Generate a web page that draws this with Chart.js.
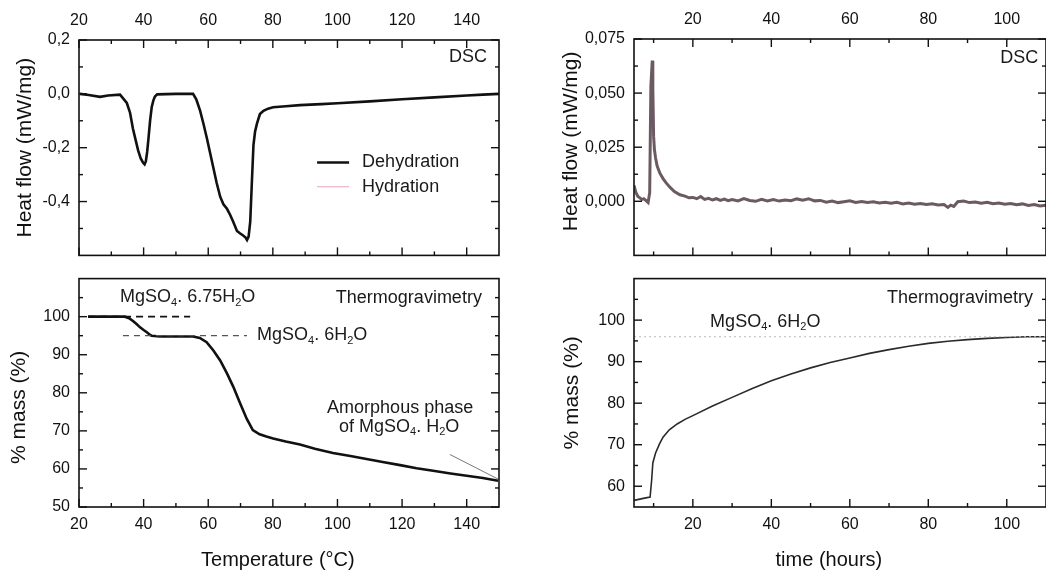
<!DOCTYPE html>
<html>
<head>
<meta charset="utf-8">
<script src="https://cdn.jsdelivr.net/npm/chart.js@4.4.0/dist/chart.umd.min.js"></script>
<style>
  html, body { margin: 0; padding: 0; background: #fff; }
  #wrap { position: relative; width: 1046px; height: 573px; overflow: hidden; }
  canvas { position: absolute; }
</style>
</head>
<body>
<div id="wrap">
  <canvas id="tl" width="520" height="274" style="left:0;top:0"></canvas>
  <canvas id="bl" width="520" height="313" style="left:0;top:260px"></canvas>
  <canvas id="tr" width="526" height="274" style="left:520px;top:0"></canvas>
  <canvas id="br" width="526" height="313" style="left:520px;top:260px"></canvas>
</div>
<script>
// Dehydration DSC (top left)
const dscTemp = [20.3, 23, 26.5, 29, 32.7, 34.8, 35.8, 36.7, 37.5, 38.3,
  39.1, 39.8, 40.3, 40.7, 41.1, 41.5, 42, 42.5, 43, 43.5,
  44.2, 50, 55.3, 56.3, 57.5, 58.5, 59.6, 60.5, 61.5, 62.6,
  63.7, 64.7, 65.8, 66.8, 67.7, 68.9, 69.8, 70.8, 71.5, 72.0,
  72.5, 73.0, 73.5, 74.0, 74.5, 75.1, 76.0, 77.1, 78.5, 80.1,
  84, 88.4, 95, 100, 110, 120, 130, 140, 145, 150];
const dscHeat = [0, -0.004, -0.011, -0.006, -0.003, -0.034, -0.07, -0.13, -0.17, -0.21,
  -0.24, -0.255, -0.262, -0.25, -0.215, -0.166, -0.1, -0.05, -0.025, -0.01,
  -0.002, 0, 0, -0.02, -0.063, -0.11, -0.166, -0.215, -0.27, -0.33,
  -0.382, -0.41, -0.427, -0.45, -0.474, -0.509, -0.518, -0.526, -0.533, -0.543,
  -0.53, -0.475, -0.33, -0.19, -0.14, -0.11, -0.075, -0.063, -0.055, -0.05,
  -0.046, -0.042, -0.038, -0.035, -0.028, -0.02, -0.013, -0.006, -0.003, 0];

// Dehydration TG (bottom left)
const tgaTemp = [22.8, 30, 34.2, 35.5, 36.8, 37.9, 38.9, 40, 41, 42,
  42.5, 45, 50, 55.3, 57.4, 59.5, 61.6, 63.7, 65.8, 67.7,
  69.8, 71.9, 73.8, 75.9, 78, 80.1, 84, 88.4, 93, 98.6,
  104, 109, 114, 119.4, 124.5, 129.6, 135, 140, 145, 149.7];
const tgaMass = [100, 100, 100, 99.6, 98.8, 98, 97.2, 96.5, 95.9, 95.2,
  95, 94.8, 94.8, 94.8, 94.4, 93.3, 91.1, 88.5, 85.1, 81.7,
  77.4, 73.2, 70.2, 69.1, 68.5, 68, 67.2, 66.4, 65.3, 64.2,
  63.4, 62.6, 61.8, 61, 60.2, 59.5, 58.8, 58.2, 57.6, 56.9];
const level675 = [22.8, 54.4];   // x span of the 100 % dashed guide
const level6 = [33.6, 72];       // x span of the 95 % dashed guide
const pointerX = [134.8, 150];
const pointerY = [63.8, 57.2];

// Hydration DSC (top right)
const hfTime = [5, 5.5, 6, 6.5, 7, 7.5, 8, 8.6, 9.0, 9.3,
  9.5, 9.65, 9.8, 10.0, 10.2, 10.5, 10.9, 11.6, 12.4, 13.2,
  14.2, 15.3, 16.7, 18, 19, 20, 21, 22, 23, 24,
  25, 26, 27, 28, 29, 30, 31.5, 33, 34.5, 36,
  37.5, 39, 40.5, 42, 43.5, 45, 46.5, 48, 49.5, 51,
  52.5, 54, 55.5, 57, 58.5, 60, 61.5, 63, 64.5, 66,
  67.5, 69, 70.5, 72, 73.5, 75, 76.5, 78, 79.5, 81,
  82.5, 84, 85, 85.7, 86.5, 87.5, 89, 90.5, 92, 93.5,
  95, 96.5, 98, 99.5, 101, 102.5, 104, 105.5, 107, 108.5,
  110];
const hfHeat = [0.0073, 0.004, 0.0022, 0.0016, 0.0008, 0.0012, 0.0004, -0.0006, 0.004, 0.053,
  0.06, 0.065, 0.052, 0.03, 0.024, 0.02, 0.0163, 0.013, 0.0105, 0.0085,
  0.0064, 0.0045, 0.003, 0.0024, 0.0016, 0.0018, 0.0012, 0.0022, 0.0009, 0.0014,
  0.0006, 0.0012, 0.0004, 0.001, 0.0003, 0.0008, 0.0002, 0.0013, 0.0004, 0.0,
  0.0009, 0.0002, 0.0008, 0.0001, 0.0006, 0.0003, 0.0011, 0.0005, 0.0012, 0.0002,
  0.0004, -0.0004, 0.0001, -0.0006, -0.0002, 0.0002, -0.0005, -0.0001, -0.0006, -0.0002,
  -0.0008, -0.0004, -0.0009, -0.0005, -0.0012, -0.0008, -0.0014, -0.001, -0.0015, -0.0011,
  -0.0017, -0.0015, -0.0028, -0.0018, -0.0024, -0.0002, 0.0001, -0.0006, -0.0003, -0.0009,
  -0.0005, -0.0011, -0.0008, -0.0014, -0.001, -0.0016, -0.0012, -0.0019, -0.0015, -0.0022,
  -0.0018];

// Hydration TG (bottom right)
const hydTime = [5, 6.5, 8, 9.1, 9.5, 9.8, 10.5, 11.5, 12.4, 14,
  16, 18, 20, 25, 30, 35, 40, 45, 50, 55,
  60, 65, 70, 75, 80, 85, 90, 95, 100, 105, 110];
const hydMass = [56.6, 56.9, 57.2, 57.4, 61.5, 65.6, 68, 70.2, 71.8, 73.6,
  75, 76.1, 77, 79.3, 81.4, 83.5, 85.4, 87, 88.5, 89.8,
  90.9, 92, 92.9, 93.7, 94.4, 94.9, 95.3, 95.6, 95.8, 96, 96];
const hexaLevel = 96;

// tick values
const tempTicks = [20, 40, 60, 80, 100, 120, 140];
const tempMinor = [30, 50, 70, 90, 110, 130];
const timeTicks = [20, 40, 60, 80, 100];
const timeMinor = [10, 30, 50, 70, 90];
const dscTicks = [0.2, 0, -0.2, -0.4];
const dscMinor = [0.1, -0.1, -0.3, -0.5];
const tgaTicks = [50, 60, 70, 80, 90, 100];
const tgaMinor = [55, 65, 75, 85, 95, 105];
const hfTicks = [0.075, 0.05, 0.025, 0];
const hfMinor = [0.0625, 0.0375, 0.0125, -0.0125];
const hydTicks = [60, 70, 80, 90, 100];
const hydMinor = [65, 75, 85, 95, 105];

const FONT = '"Liberation Sans", Arial, sans-serif';
Chart.defaults.font.family = FONT;
Chart.defaults.color = '#111';

const pts = (xs, ys) => xs.map((x, i) => ({ x: x, y: ys[i] }));
const comma = (d) => (v) => Number(v).toFixed(d).replace('.', ',');
const NB = '\u00a0';

// text with "_n" subscripts
const drawRich = (ctx, str, x, y, align, size) => {
  const parts = str.split(/(_\d)/).filter(p => p).map(p =>
    p[0] === '_' ? { t: p[1], sub: true } : { t: p, sub: false });
  const big = size + 'px ' + FONT;
  const small = Math.round(size * 0.62) + 'px ' + FONT;
  let w = 0;
  parts.forEach(p => { ctx.font = p.sub ? small : big; p.w = ctx.measureText(p.t).width; w += p.w; });
  let cx = align === 'right' ? x - w : align === 'center' ? x - w / 2 : x;
  ctx.textAlign = 'left';
  ctx.textBaseline = 'middle';
  parts.forEach(p => {
    ctx.font = p.sub ? small : big;
    ctx.fillText(p.t, cx, p.sub ? y + size * 0.3 : y);
    cx += p.w;
  });
};

// frame, inward ticks, notes and legend
const panelDecor = {
  id: 'panelDecor',
  afterDatasetsDraw(chart, args, o) {
    const { ctx, chartArea: a } = chart;
    const xs = chart.scales.x, ys = chart.scales.y;
    ctx.save();
    ctx.strokeStyle = '#111';
    ctx.lineWidth = 1.6;
    ctx.strokeRect(a.left, a.top, a.right - a.left, a.bottom - a.top);
    ctx.lineWidth = 1.4;
    const marks = (vals, len) => {
      vals.forEach(v => {
        o.sides.forEach(side => {
          ctx.beginPath();
          if (side === 'top' || side === 'bottom') {
            if (side === 'top' && !o.xTop) return;
            const px = xs.getPixelForValue(v.x);
            if (v.x === undefined) return;
            const y0 = side === 'top' ? a.top : a.bottom;
            ctx.moveTo(px, y0);
            ctx.lineTo(px, y0 + (side === 'top' ? len : -len));
          } else {
            if (v.y === undefined) return;
            const py = ys.getPixelForValue(v.y);
            const x0 = side === 'left' ? a.left : a.right;
            ctx.moveTo(x0, py);
            ctx.lineTo(x0 + (side === 'left' ? len : -len), py);
          }
          ctx.stroke();
        });
      });
    };
    marks(o.xMajor.map(v => ({ x: v })), 8);
    marks(o.xMinor.map(v => ({ x: v })), 4);
    marks(o.yMajor.map(v => ({ y: v })), 8);
    marks(o.yMinor.map(v => ({ y: v })), 4);

    ctx.fillStyle = '#1a1a1a';
    (o.notes || []).forEach(n => {
      drawRich(ctx, n.text, xs.getPixelForValue(n.x), ys.getPixelForValue(n.y), n.align, 18);
    });

    if (o.legend) {
      const lx = xs.getPixelForValue(o.legend.x);
      chart.data.datasets.filter(d => d.inLegend).forEach((d, i) => {
        const ly = ys.getPixelForValue(o.legend.rows[i]);
        ctx.strokeStyle = d.borderColor;
        ctx.lineWidth = d.borderWidth;
        ctx.beginPath();
        ctx.moveTo(lx, ly);
        ctx.lineTo(lx + 32, ly);
        ctx.stroke();
        drawRich(ctx, d.label, lx + 45, ly, 'left', 18);
      });
    }
    ctx.restore();
  }
};

const xAxis = (pos, min, max, ticks, height, title, pad) => ({
  type: 'linear', position: pos, min: min, max: max,
  afterBuildTicks: s => { s.ticks = ticks.map(v => ({ value: v })); },
  afterFit: s => { s.height = height; },
  grid: { display: false, drawTicks: false },
  border: { display: false },
  ticks: { font: { size: 16 }, color: '#111', padding: pad, maxRotation: 0, autoSkip: false },
  title: title ? { display: true, text: title, font: { size: 20 }, color: '#111', padding: 1 } : { display: false }
});

const yAxis = (min, max, ticks, width, title, fmt, pad) => ({
  type: 'linear', min: min, max: max,
  afterBuildTicks: s => { s.ticks = ticks.map(v => ({ value: v })); },
  afterFit: s => { s.width = width; },
  grid: { display: false, drawTicks: false },
  border: { display: false },
  ticks: { font: { size: 16 }, color: '#111', padding: 9, autoSkip: false, callback: fmt },
  title: { display: true, text: title, font: { size: 21 }, color: '#111', padding: { top: pad, bottom: 0 } }
});

const line = (label, data, color, width, extra) => Object.assign({
  label: label, data: data, borderColor: color, borderWidth: width,
  showLine: true, pointRadius: 0, fill: false, tension: 0
}, extra || {});

const baseOptions = (padding, scales, decor) => ({
  responsive: false,
  animation: false,
  devicePixelRatio: 1,
  layout: { padding: padding },
  plugins: { legend: { display: false }, tooltip: { enabled: false }, panelDecor: decor },
  scales: scales
});

// top left: DSC on heating
new Chart(document.getElementById('tl'), {
  type: 'scatter',
  data: { datasets: [
    line('Dehydration', pts(dscTemp, dscHeat), '#111', 2.6, { inLegend: true }),
    line('Hydration', [], '#e2a6b4', 1.2, { inLegend: true })
  ] },
  options: baseOptions({ left: 0, top: 0, right: 21, bottom: 1 }, {
    x: xAxis('top', 20, 150, tempTicks, 40, null, 10),
    y: yAxis(-0.6, 0.2, dscTicks, 79, 'Heat flow (mW/mg)', comma(1), 13)
  }, {
    sides: ['top', 'bottom', 'left', 'right'], xTop: true,
    xMajor: tempTicks, xMinor: tempMinor, yMajor: dscTicks, yMinor: dscMinor,
    notes: [{ text: 'DSC', x: 146.3, y: 0.138, align: 'right' }],
    legend: { x: 93.7, rows: [-0.255, -0.345] }
  }),
  plugins: [panelDecor]
});

// bottom left: TG on heating
new Chart(document.getElementById('bl'), {
  type: 'scatter',
  data: { datasets: [
    line('guide 6.75', pts(level675, [100, 100]), '#111', 1.6, { borderDash: [7, 5] }),
    line('guide 6', pts(level6, [95, 95]), '#555', 1.2, { borderDash: [6, 5] }),
    line('pointer', pts(pointerX, pointerY), '#777', 1),
    line('Dehydration', pts(tgaTemp, tgaMass), '#111', 2.6)
  ] },
  options: baseOptions({ left: 0, top: 13, right: 21, bottom: 0 }, {
    x: xAxis('bottom', 20, 150, tempTicks, 66, 'Temperature (°C)' + NB.repeat(4), 8),
    y: yAxis(50, 110, tgaTicks, 79, '% mass (%)' + NB.repeat(5), v => String(v), 7)
  }, {
    sides: ['bottom', 'left', 'right'],
    xMajor: tempTicks, xMinor: tempMinor, yMajor: tgaTicks, yMinor: tgaMinor,
    notes: [
      { text: 'Thermogravimetry', x: 144.7, y: 104.9, align: 'right' },
      { text: 'MgSO_4. 6.75H_2O', x: 32.7, y: 105.1, align: 'left' },
      { text: 'MgSO_4. 6H_2O', x: 75.1, y: 95.1, align: 'left' },
      { text: 'Amorphous phase', x: 119.4, y: 75.9, align: 'center' },
      { text: 'of MgSO_4. H_2O', x: 119.1, y: 71, align: 'center' }
    ]
  }),
  plugins: [panelDecor]
});

// top right: DSC during hydration
new Chart(document.getElementById('tr'), {
  type: 'scatter',
  data: { datasets: [
    line('Hydration', pts(hfTime, hfHeat), '#6b5a62', 3)
  ] },
  options: baseOptions({ left: 0, top: 0, right: 0, bottom: 1 }, {
    x: xAxis('top', 5, 110, timeTicks, 39, null, 10),
    y: yAxis(-0.025, 0.075, hfTicks, 114, NB.repeat(2) + 'Heat flow (mW/mg)', comma(3), 39)
  }, {
    sides: ['top', 'bottom', 'left', 'right'], xTop: true,
    xMajor: timeTicks, xMinor: timeMinor, yMajor: hfTicks, yMinor: hfMinor,
    notes: [{ text: 'DSC', x: 108, y: 0.066, align: 'right' }]
  }),
  plugins: [panelDecor]
});

// bottom right: TG during hydration
new Chart(document.getElementById('br'), {
  type: 'scatter',
  data: { datasets: [
    line('hexahydrate level', pts([5, 110], [hexaLevel, hexaLevel]), '#bbb', 1, { borderDash: [2, 3] }),
    line('Hydration', pts(hydTime, hydMass), '#2a2a2a', 1.6)
  ] },
  options: baseOptions({ left: 0, top: 13, right: 0, bottom: 0 }, {
    x: xAxis('bottom', 5, 110, timeTicks, 66, 'time (hours)' + NB.repeat(4), 8),
    y: yAxis(55, 110, hydTicks, 114, '% mass (%)', v => String(v), 40)
  }, {
    sides: ['bottom', 'left', 'right'],
    xMajor: timeTicks, xMinor: timeMinor, yMajor: hydTicks, yMinor: hydMinor,
    notes: [
      { text: 'Thermogravimetry', x: 106.7, y: 105.3, align: 'right' },
      { text: 'MgSO_4. 6H_2O', x: 24.4, y: 99.6, align: 'left' }
    ]
  }),
  plugins: [panelDecor]
});
</script>
</body>
</html>
